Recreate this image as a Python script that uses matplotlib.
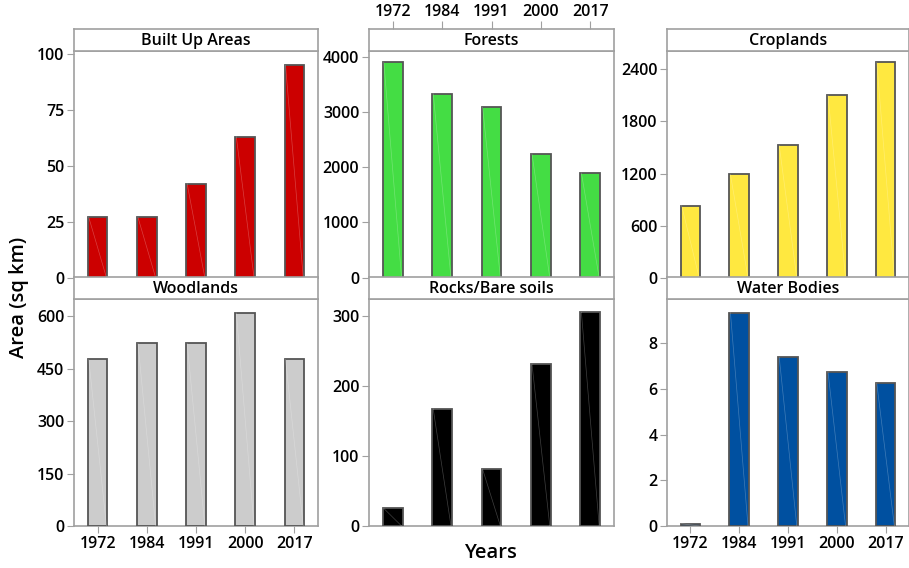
import matplotlib
matplotlib.use("Agg")
from matplotlib import pyplot as plt
import numpy as np

plt.rcParams['font.family'] = ['Open Sans', 'DejaVu Sans']

years = ['1972', '1984', '1991', '2000', '2017']

built_up = [27, 27, 42, 63, 95]
forests = [3900, 3330, 3085, 2240, 1895]
croplands = [830, 1190, 1525, 2100, 2480]
woodlands = [477, 523, 523, 610, 477]
rocks = [25, 167, 81, 231, 305]
water = [0.1, 9.35, 7.4, 6.75, 6.25]

titles = ['Built Up Areas', 'Forests', 'Croplands',
          'Woodlands', 'Rocks/Bare soils', 'Water Bodies']
series = [built_up, forests, croplands, woodlands, rocks, water]
colors = ['#CC0000', '#44DD44', '#FFE840', '#CCCCCC', '#000000', '#0050A0']
y_tops = [101.5, 4110, 2615, 650, 324, 9.95]
y_ticks = [[0, 25, 50, 75, 100],
           [0, 1000, 2000, 3000, 4000],
           [0, 600, 1200, 1800, 2400],
           [0, 150, 300, 450, 600],
           [0, 100, 200, 300],
           [0, 2, 4, 6, 8]]

W, H = 909, 568
frame = '#A0A0A0'
edge = '#555555'
tick_size = 11.5

fig = plt.figure(figsize=(W / 100, H / 100), dpi=100)

col_x = [74, 369, 667]
col_w = [244, 245, 242]
row_top = [50.7, 299]     # top of data area, px
data_h = 227
head_h = 21.7

x = np.arange(len(years))
bar_w = 0.4


def style_ticks(a):
    for lab in a.get_xticklabels() + a.get_yticklabels():
        lab.set_fontweight('semibold')


for i, (title, vals, color) in enumerate(zip(titles, series, colors)):
    r, c = divmod(i, 3)
    x0 = col_x[c] / W
    w = col_w[c] / W
    y_data = 1 - (row_top[r] + data_h) / H
    ax = fig.add_axes([x0, y_data, w, data_h / H])
    hx = fig.add_axes([x0, 1 - row_top[r] / H, w, head_h / H])

    ax.bar(x, vals, width=bar_w, color=color, edgecolor=edge, linewidth=1.3, zorder=3)
    # faint diagonal seen inside each bar
    for xi, v in zip(x, vals):
        ax.plot([xi - bar_w / 2 + 0.02, xi + bar_w / 2 - 0.02], [v, 0],
                color='white', lw=0.5, alpha=0.25, zorder=4)

    ax.set_xlim(-0.48, 4.48)
    ax.set_ylim(0, y_tops[i])
    ax.set_yticks(y_ticks[i])
    ax.tick_params(axis='y', length=5, color=frame, labelsize=tick_size, pad=2)
    ax.tick_params(axis='x', length=5, color=frame, labelsize=tick_size, pad=2)
    for s in ax.spines.values():
        s.set_color(frame)
        s.set_linewidth(1.2)

    if r == 1 and c != 1:
        ax.set_xticks(x)
        ax.set_xticklabels(years)
    else:
        ax.set_xticks([])
    style_ticks(ax)

    hx.set_xlim(ax.get_xlim())
    hx.set_yticks([])
    for s in hx.spines.values():
        s.set_color(frame)
        s.set_linewidth(1.2)
    hx.text(0.5, 0.45, title, transform=hx.transAxes, ha='center', va='center',
            fontsize=11.5, fontweight='semibold')
    if r == 0 and c == 1:
        hx.xaxis.set_ticks_position('top')
        hx.set_xticks(x)
        hx.set_xticklabels(years)
        hx.tick_params(axis='x', length=5.5, color=frame, labelsize=tick_size, pad=1)
        style_ticks(hx)
    else:
        hx.set_xticks([])

fig.text(19 / W, 1 - 297 / H, 'Area (sq km)', rotation=90, ha='center', va='center',
         fontsize=14.5, fontweight='semibold')
fig.text(490 / W, 1 - 553 / H, 'Years', ha='center', va='center',
         fontsize=14.5, fontweight='semibold')

fig.savefig('out.png', dpi=100)
